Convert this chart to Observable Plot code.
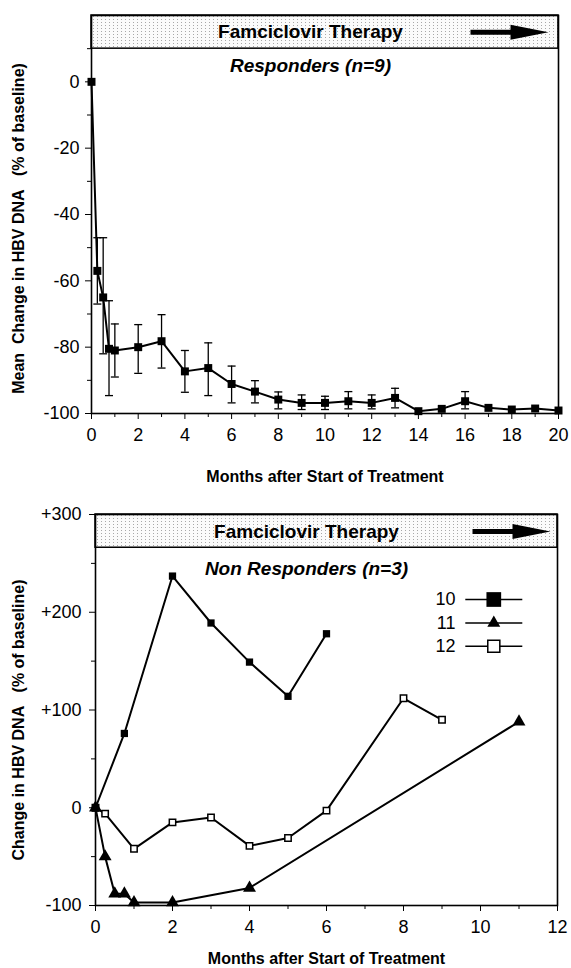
<!DOCTYPE html>
<html><head><meta charset="utf-8">
<script src="https://cdn.jsdelivr.net/npm/d3@7"></script>
<script src="https://cdn.jsdelivr.net/npm/@observablehq/plot@0.6"></script>
<style>
body{margin:0;background:#fff}
#wrap{position:relative;width:571px;height:968px;overflow:hidden;background:#fff}
#top,#bot{position:absolute;left:0}
#top{top:0}
#bot{top:490px}
</style></head>
<body><div id="wrap"><div id="top"></div><div id="bot"></div></div>
<script>
// ---------- Data: responders (top panel) ----------
const respMonths = [0, 0.25, 0.5, 0.75, 1, 2, 3, 4, 5, 6, 7, 8, 9, 10, 11, 12, 13, 14, 15, 16, 17, 18, 19, 20];
const respMean   = [0, -57, -65, -80.5, -81, -80, -78.2, -87.3, -86.3, -91.1, -93.4, -95.8, -96.8, -96.8, -96.3, -96.8, -95.3, -99.3, -98.6, -96.3, -98.3, -98.8, -98.5, -99.1];
const respLow    = [null, -67, -82, -94.6, -89, -87.9, -86.3, -93.6, -94.6, -96.8, -96.8, -98.6, -98.8, -98.8, -98.6, -98.6, -98.3, null, null, -98.6, null, null, null, null];
const respHigh   = [null, -47, -47, -66, -73, -73.2, -70.2, -81, -78.7, -85.7, -90.1, -93.5, -94.4, -94.8, -93.4, -94.4, -92.4, null, null, -93.4, null, null, null, null];

// ---------- Data: non responders (bottom panel) ----------
const p10Months = [0, 0.75, 2, 3, 4, 5, 6];
const p10Change = [0, 76, 237, 189, 149, 114, 178];
const p11Months = [0, 0.25, 0.5, 0.75, 1, 2, 4, 11];
const p11Change = [0, -50, -88, -88, -97, -97, -82, 88];
const p12Months = [0, 0.25, 1, 2, 3, 4, 5, 6, 8, 9];
const p12Change = [0, -6, -42, -15, -10, -39, -31, -3, 112, 90];
const patientIds = ["10", "11", "12"];

// ---------- Axes / labels ----------
const topXDomain = [0, 20];
const topYDomain = [-100, 20];
const topXMajor = [0, 2, 4, 6, 8, 10, 12, 14, 16, 18, 20];
const topXMinor = [1, 3, 5, 7, 9, 11, 13, 15, 17, 19];
const topYMajor = [-100, -80, -60, -40, -20, 0];
const topYMinor = [-90, -70, -50, -30, -10, 10];
const topBanner = [10, 20];

const botXDomain = [0, 12];
const botYDomain = [-100, 300];
const botXMajor = [0, 2, 4, 6, 8, 10, 12];
const botXMinor = [1, 3, 5, 7, 9, 11];
const botYMajor = [-100, 0, 100, 200, 300];
const botYMinor = [-50, 50, 150, 250];
const botBanner = [266, 300];

const bannerText = "Famciclovir Therapy";
const topSubtitle = "Responders (n=9)";
const botSubtitle = "Non Responders (n=3)";
const xTitle = "Months after Start of Treatment";
const topYTitle = "Mean\u00a0 Change in HBV DNA\u00a0\u00a0 (% of baseline)";
const botYTitle = "Change in HBV DNA\u00a0\u00a0 (% of baseline)";

// ---------- helpers ----------
const FONT = '"Liberation Sans", Arial, Helvetica, sans-serif';
const capSymbol = {draw(ctx, size) { const r = Math.sqrt(size / Math.PI); ctx.moveTo(-r, 0); ctx.lineTo(r, 0); }};
const arrowSymbol = {draw(ctx) {
  ctx.moveTo(-40, -2.5); ctx.lineTo(0, -2.5); ctx.lineTo(0, -7.5); ctx.lineTo(38, 0);
  ctx.lineTo(0, 7.5); ctx.lineTo(0, 2.5); ctx.lineTo(-40, 2.5); ctx.closePath();
}};
const fmtTop = d => String(d);
const fmtBot = d => d > 0 ? "+" + d : String(d);
const STIP = "#ededed";
const T = {x: null, y: null, lineAnchor: "middle", textAnchor: "middle"};

function addStipple(svg, id) {
  const ns = "http://www.w3.org/2000/svg";
  const defs = document.createElementNS(ns, "defs");
  const pat = document.createElementNS(ns, "pattern");
  pat.setAttribute("id", id); pat.setAttribute("width", 4); pat.setAttribute("height", 3);
  pat.setAttribute("patternUnits", "userSpaceOnUse");
  const bg = document.createElementNS(ns, "rect");
  bg.setAttribute("width", 4); bg.setAttribute("height", 3); bg.setAttribute("fill", "#fbfbfb");
  const dot = document.createElementNS(ns, "rect");
  dot.setAttribute("x", 1); dot.setAttribute("y", 1); dot.setAttribute("width", 1); dot.setAttribute("height", 1); dot.setAttribute("fill", "#a8a8a8");
  pat.appendChild(bg); pat.appendChild(dot); defs.appendChild(pat);
  svg.insertBefore(defs, svg.firstChild);
  svg.querySelectorAll(`[fill="${STIP}"]`).forEach(el => el.setAttribute("fill", `url(#${id})`));
}

// ---------- Top panel ----------
const respRows = respMonths.map((m, i) => ({m, v: respMean[i], lo: respLow[i], hi: respHigh[i]}));
const errRows = respRows.filter(d => d.lo != null);

const topPlot = Plot.plot({
  width: 571, height: 490,
  marginLeft: 91, marginRight: 13, marginTop: 15, marginBottom: 77,
  style: {fontFamily: FONT, fontSize: "18px", color: "black", background: "white", overflow: "visible"},
  x: {domain: topXDomain},
  y: {domain: topYDomain},
  marks: [
    Plot.rect([0], {x1: topXDomain[0], x2: topXDomain[1], y1: topBanner[0], y2: topBanner[1], fill: STIP, stroke: "black", strokeWidth: 1.5}),
    Plot.text([bannerText], {...T, frameAnchor: "top", dx: -14.5, dy: 16.7, fontSize: 19, fontWeight: "bold"}),
    Plot.dot([0], {x: null, y: null, frameAnchor: "top-right", dx: -48, dy: 16.7, symbol: arrowSymbol, r: 5, fill: "black"}),
    Plot.text([topSubtitle], {...T, frameAnchor: "top", dx: -14.5, dy: 50, fontSize: 19, fontWeight: "bold", fontStyle: "italic"}),
    Plot.ruleX(errRows, {x: "m", y1: "lo", y2: "hi", strokeWidth: 1.3}),
    Plot.dot(errRows, {x: "m", y: "lo", symbol: capSymbol, r: 4, stroke: "black", strokeWidth: 1.3}),
    Plot.dot(errRows, {x: "m", y: "hi", symbol: capSymbol, r: 4, stroke: "black", strokeWidth: 1.3}),
    Plot.line(respRows, {x: "m", y: "v", strokeWidth: 2}),
    Plot.dot(respRows, {x: "m", y: "v", symbol: "square", r: 4.5, fill: "black"}),
    Plot.axisY({ticks: topYMajor, tickSize: 6, tickPadding: 6, tickFormat: fmtTop, fontSize: 18, label: null}),
    Plot.axisY({ticks: topYMinor, tickSize: 4, fill: "none", label: null}),
    Plot.axisX({ticks: topXMajor, tickSize: 6, tickPadding: 9, tickFormat: fmtTop, fontSize: 18, label: null}),
    Plot.axisX({ticks: topXMinor, tickSize: 4, fill: "none", label: null}),
    Plot.frame({strokeWidth: 1.6}),
    Plot.text([xTitle], {...T, frameAnchor: "bottom", dy: 63, fontSize: 16, fontWeight: "bold"}),
    Plot.text([topYTitle], {...T, frameAnchor: "left", rotate: -90, dx: -73, dy: 14, fontSize: 16, fontWeight: "bold"})
  ]
});
addStipple(topPlot, "stipTop");
document.getElementById("top").appendChild(topPlot);

// ---------- Bottom panel ----------
const rows10 = p10Months.map((m, i) => ({m, v: p10Change[i]}));
const rows11 = p11Months.map((m, i) => ({m, v: p11Change[i]}));
const rows12 = p12Months.map((m, i) => ({m, v: p12Change[i]}));

const legendMarks = [];
const legendStyles = [
  {symbol: "square", r: 8.3, fill: "black"},
  {symbol: "triangle", r: 4.8, fill: "black"},
  {symbol: "square", r: 6.8, fill: "white", stroke: "black", strokeWidth: 1.5}
];
patientIds.forEach((id, i) => {
  const dy = 85 + i * 23.4;
  legendMarks.push(
    Plot.text([id], {...T, frameAnchor: "top-left", dx: 360, dy, textAnchor: "end", fontSize: 18}),
    Plot.dot([0], {x: null, y: null, frameAnchor: "top-left", dx: 398.3, dy, symbol: capSymbol, r: 28.5, stroke: "black", strokeWidth: 1.5}),
    Plot.dot([0], {x: null, y: null, frameAnchor: "top-left", dx: 398.3, dy, ...legendStyles[i]})
  );
});

const botPlot = Plot.plot({
  width: 571, height: 478,
  marginLeft: 95, marginRight: 14, marginTop: 24, marginBottom: 63,
  style: {fontFamily: FONT, fontSize: "18px", color: "black", background: "white", overflow: "visible"},
  x: {domain: botXDomain},
  y: {domain: botYDomain},
  marks: [
    Plot.rect([0], {x1: botXDomain[0], x2: botXDomain[1], y1: botBanner[0], y2: botBanner[1], fill: STIP, stroke: "black", strokeWidth: 1.5}),
    Plot.text([bannerText], {...T, frameAnchor: "top", dx: -20, dy: 17, fontSize: 19, fontWeight: "bold"}),
    Plot.dot([0], {x: null, y: null, frameAnchor: "top-right", dx: -45, dy: 17, symbol: arrowSymbol, r: 5, fill: "black"}),
    Plot.text([botSubtitle], {...T, frameAnchor: "top", dx: -20, dy: 54, fontSize: 19, fontWeight: "bold", fontStyle: "italic"}),
    Plot.line(rows10, {x: "m", y: "v", strokeWidth: 2}),
    Plot.line(rows12, {x: "m", y: "v", strokeWidth: 2}),
    Plot.line(rows11, {x: "m", y: "v", strokeWidth: 2}),
    Plot.dot(rows10, {x: "m", y: "v", symbol: "square", r: 4.1, fill: "black"}),
    Plot.dot(rows12, {x: "m", y: "v", symbol: "square", r: 3.6, fill: "white", stroke: "black", strokeWidth: 1.5}),
    Plot.dot(rows11, {x: "m", y: "v", symbol: "triangle", r: 4.8, fill: "black"}),
    ...legendMarks,
    Plot.axisY({ticks: botYMajor, tickSize: 6, tickPadding: 8, tickFormat: fmtBot, fontSize: 18, label: null}),
    Plot.axisY({ticks: botYMinor, tickSize: 4, fill: "none", label: null}),
    Plot.axisX({ticks: botXMajor, tickSize: 6, tickPadding: 9, tickFormat: fmtTop, fontSize: 18, label: null}),
    Plot.axisX({ticks: botXMinor, tickSize: 4, fill: "none", label: null}),
    Plot.frame({strokeWidth: 1.6}),
    Plot.text([xTitle], {...T, frameAnchor: "bottom", dy: 53, fontSize: 16, fontWeight: "bold"}),
    Plot.text([botYTitle], {...T, frameAnchor: "left", rotate: -90, dx: -77, dy: 10, fontSize: 16, fontWeight: "bold"})
  ]
});
addStipple(botPlot, "stipBot");
document.getElementById("bot").appendChild(botPlot);
</script>
</body></html>
